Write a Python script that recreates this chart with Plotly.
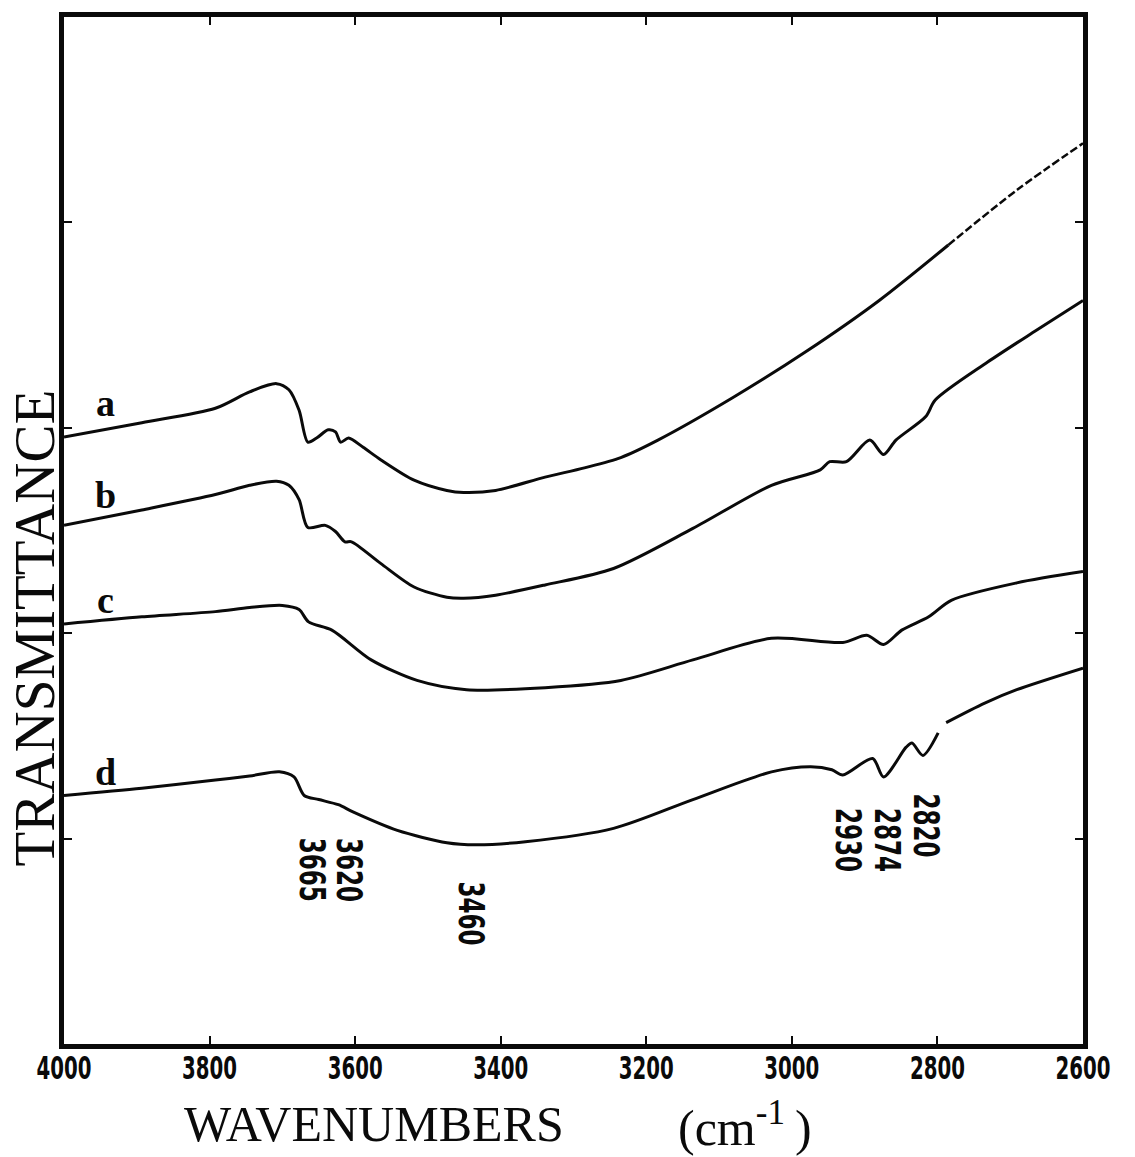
import plotly.graph_objects as go

# IR transmittance spectra (arbitrary transmittance units, curves offset vertically)
a_wn = [4000, 3893, 3792, 3745, 3708, 3691, 3677, 3665, 3653, 3637, 3627, 3620, 3609, 3589,
        3565, 3519, 3474, 3451, 3407, 3339, 3285, 3235, 3184, 3082, 2981, 2880, 2785, 2690, 2600]
a_t = [59.1, 60.5, 61.9, 63.5, 64.3, 63.7, 61.7, 58.6, 59.0, 59.8, 59.6, 58.6, 59.0, 58.1,
       56.9, 54.9, 53.9, 53.7, 53.9, 55.2, 56.1, 57.1, 58.8, 62.9, 67.4, 72.4, 77.8, 83.2, 87.7]

b_wn = [4000, 3893, 3792, 3745, 3708, 3691, 3677, 3665, 3641, 3627, 3614, 3605, 3565, 3519,
        3474, 3451, 3407, 3339, 3245, 3136, 3028, 2961, 2948, 2925, 2893, 2874, 2857, 2816,
        2803, 2731, 2664, 2600]
b_t = [50.5, 52.0, 53.5, 54.4, 54.8, 54.4, 53.0, 50.3, 50.5, 49.9, 48.9, 48.9, 46.8, 44.5,
       43.5, 43.4, 43.7, 44.7, 46.3, 50.2, 54.4, 55.9, 56.7, 56.7, 58.8, 57.4, 58.8, 61.1,
       62.7, 66.4, 69.5, 72.4]

c_wn = [4000, 3893, 3792, 3745, 3700, 3677, 3664, 3632, 3578, 3515, 3447, 3339, 3235, 3136,
        3028, 2930, 2897, 2874, 2849, 2812, 2781, 2691, 2600]
c_t = [40.9, 41.6, 42.1, 42.5, 42.7, 42.3, 41.1, 40.3, 37.4, 35.4, 34.5, 34.7, 35.4, 37.4,
       39.5, 39.1, 39.8, 38.9, 40.3, 41.6, 43.2, 44.9, 46.0]

d_wn = [4000, 3893, 3792, 3745, 3704, 3684, 3670, 3650, 3623, 3603, 3542, 3474, 3434, 3366,
        3245, 3136, 3028, 2974, 2945, 2930, 2889, 2874, 2843, 2835, 2820, 2799, 2794, 2788,
        2735, 2691, 2600]
d_t = [24.2, 24.9, 25.7, 26.1, 26.5, 26.0, 24.2, 23.8, 23.3, 22.6, 20.8, 19.6, 19.4, 19.7,
       21.0, 23.8, 26.5, 27.0, 26.7, 26.2, 27.8, 26.0, 28.9, 29.3, 28.1, 30.3, None, 31.3,
       33.2, 34.5, 36.6]

curve_names = ["a", "b", "c", "d"]
curve_label_t = [62.4, 53.5, 43.2, 26.5]

peak_labels = ["3665", "3620", "3460", "2930", "2874", "2820"]
peak_wn = [3665, 3620, 3460, 2930, 2874, 2820]
peak_label_t = [17.0, 17.0, 12.7, 19.9, 19.9, 21.3]
peak_shift = [5, 9, 14, 6, 4, 4]

tick_vals = [4000, 3800, 3600, 3400, 3200, 3000, 2800, 2600]
tick_text = ["4000", "3800", "3600", "3400", "3200", "3000", "2800", "2600"]

INK = "#0a0a0a"
CONDENSED = "DejaVu Sans Condensed, DejaVu Sans, sans-serif"
SERIF = "Liberation Serif, Times New Roman, DejaVu Serif, serif"

fig = go.Figure()

line_style = dict(color=INK, width=3, shape="spline", smoothing=0.8)

# curve a: the high-wavenumber tail prints faintly, drawn as a broken line
split = 2785
a_solid = [(w, t) for w, t in zip(a_wn, a_t) if w >= split]
a_faint = [(w, t) for w, t in zip(a_wn, a_t) if w <= split]
fig.add_trace(go.Scatter(x=[p[0] for p in a_solid], y=[p[1] for p in a_solid],
                         mode="lines", line=line_style, showlegend=False))
fig.add_trace(go.Scatter(x=[p[0] for p in a_faint], y=[p[1] for p in a_faint],
                         mode="lines", showlegend=False,
                         line=dict(color=INK, width=2.5, dash="8px,3px", shape="spline",
                                   smoothing=0.8)))

for wn, t in [(b_wn, b_t), (c_wn, c_t), (d_wn, d_t)]:
    fig.add_trace(go.Scatter(x=wn, y=t, mode="lines", line=line_style,
                             connectgaps=False, showlegend=False))

annotations = []
for name, t in zip(curve_names, curve_label_t):
    annotations.append(dict(x=3943, y=t, xref="x", yref="y", text=name, showarrow=False,
                            font=dict(family=SERIF, size=38, color=INK, weight="bold")))

for lab, wn, t, dx in zip(peak_labels, peak_wn, peak_label_t, peak_shift):
    annotations.append(dict(x=wn, y=t, xref="x", yref="y", text=lab, showarrow=False,
                            textangle=90, xshift=dx,
                            font=dict(family=CONDENSED, size=36, color=INK, weight="bold")))

annotations.append(dict(x=0.304, y=-0.078, xref="paper", yref="paper", text="WAVENUMBERS",
                        showarrow=False, xanchor="center", yanchor="middle",
                        font=dict(family=SERIF, size=50, color=INK)))
annotations.append(dict(x=0.668, y=-0.078, xref="paper", yref="paper",
                        text="(cm<sup>-1</sup>\u2009)", showarrow=False,
                        xanchor="center", yanchor="middle",
                        font=dict(family=SERIF, size=50, color=INK)))
annotations.append(dict(x=-0.029, y=0.405, xref="paper", yref="paper", text="TRANSMITTANCE",
                        showarrow=False, textangle=-90, xanchor="center", yanchor="middle",
                        font=dict(family=SERIF, size=57, color=INK)))

fig.update_layout(
    width=1135, height=1157,
    margin=dict(l=64, r=39, t=17, b=113),
    paper_bgcolor="white", plot_bgcolor="white",
    annotations=annotations,
    xaxis=dict(range=[4000, 2600], tickvals=tick_vals, ticktext=tick_text,
               ticks="inside", ticklen=8, tickwidth=2, tickcolor=INK,
               showline=True, linewidth=5, linecolor=INK, mirror="ticks",
               showgrid=False, zeroline=False, ticklabeloverflow="allow",
               ticklabelstandoff=-8,
               tickfont=dict(family=CONDENSED, size=32, color=INK, weight="bold")),
    yaxis=dict(range=[0, 100], tickvals=[20, 40, 60, 80], showticklabels=False,
               ticks="inside", ticklen=8, tickwidth=2, tickcolor=INK,
               showline=True, linewidth=5, linecolor=INK, mirror="ticks",
               showgrid=False, zeroline=False),
)

# narrow the bold numerals (tick labels and band positions) to a compressed face width
squeeze_js = """
var root = document.querySelector('.js-plotly-plot');
function squeeze(sel, w) {
  root.querySelectorAll(sel).forEach(function (t) {
    if (/^[0-9]{4}$/.test(t.textContent)) {
      t.setAttribute('textLength', w);
      t.setAttribute('lengthAdjust', 'spacingAndGlyphs');
    }
  });
}
squeeze('.xtick text', 55);
squeeze('.annotation-text', 64);
"""

fig.write_html("out.html", post_script=squeeze_js)
